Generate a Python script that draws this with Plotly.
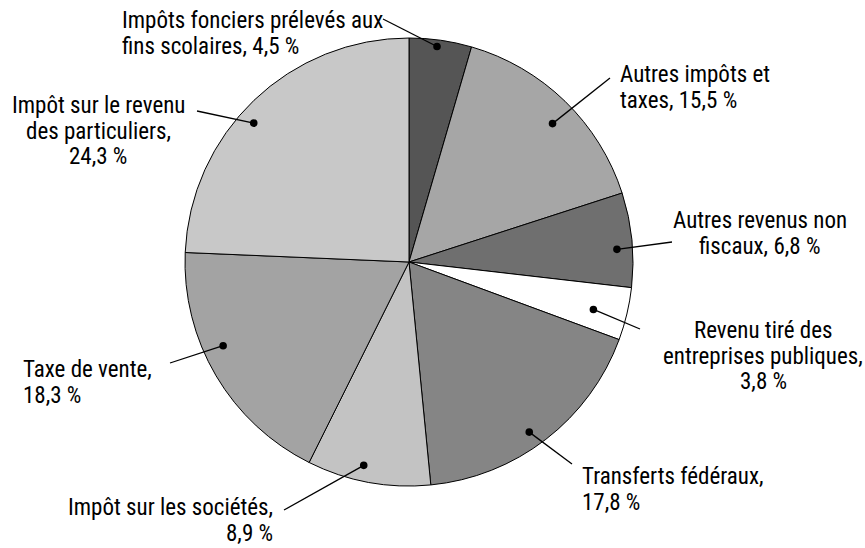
import math
import plotly.graph_objects as go

# Revenue shares, clockwise from 12 o'clock
labels = [
    "Impôts fonciers prélevés aux fins scolaires",
    "Autres impôts et taxes",
    "Autres revenus non fiscaux",
    "Revenu tiré des entreprises publiques",
    "Transferts fédéraux",
    "Impôt sur les sociétés",
    "Taxe de vente",
    "Impôt sur le revenu des particuliers",
]
values = [4.5, 15.5, 6.8, 3.8, 17.8, 8.9, 18.3, 24.3]
label_lines = [
    ["Impôts fonciers prélevés aux", "fins scolaires, {} %"],
    ["Autres impôts et", "taxes, {} %"],
    ["Autres revenus non", "fiscaux, {} %"],
    ["Revenu tiré des", "entreprises publiques,", "{} %"],
    ["Transferts fédéraux,", "{} %"],
    ["Impôt sur les sociétés,", "{} %"],
    ["Taxe de vente,", "{} %"],
    ["Impôt sur le revenu", "des particuliers,", "{} %"],
]
colors = ["#555555", "#a6a6a6", "#6f6f6f", "#ffffff",
          "#858585", "#c3c3c3", "#a3a3a3", "#c8c8c8"]

W, H = 865, 548
CX, CY, R = 409, 262, 224
FS = 23          # label font size
LEAD = 25.5      # baseline-to-baseline spacing

# label placement: x anchor, first baseline, alignment, leader end (px),
# dot radius fraction, dot angle nudge (deg)
label_pos = [
    (121, 29, "left", (383, 19), 0.97, -0.7),
    (619, 83, "left", (610, 78), 0.89, 1.9),
    (760, 229, "center", (672, 242), 0.93, 2.2),
    (763, 339, "center", (640, 329), 0.85, 1.0),
    (581, 485, "left", (572, 464), 0.93, 2.4),
    (274, 516, "right", (284, 510), 0.93, 2.1),
    (22, 378, "left", (170, 363), 0.91, 6.3),
    (98, 114, "center", (197, 111), 0.93, -4.4),
]

FONT = "Liberation Sans Narrow, Arial Narrow, Roboto Condensed, Liberation Sans, sans-serif"

fig = go.Figure()
fig.add_trace(go.Pie(
    labels=labels,
    values=values,
    sort=False,
    direction="clockwise",
    rotation=0,
    textinfo="none",
    hoverinfo="label+percent",
    marker=dict(colors=colors, line=dict(color="#000000", width=1)),
    domain=dict(x=[(CX - R) / W, (CX + R) / W],
                y=[1 - (CY + R) / H, 1 - (CY - R) / H]),
    showlegend=False,
))

total = sum(values)
shapes = []
annotations = []
cum = 0.0
for v, lines, pos in zip(values, label_lines, label_pos):
    tx, base, align, (lx, ly), rf, nudge = pos
    mid = (cum + v / 2) / total * 360 + nudge
    cum += v
    a = math.radians(mid)
    dx = CX + rf * R * math.sin(a)
    dy = CY - rf * R * math.cos(a)
    # leader line
    shapes.append(dict(type="line", xref="paper", yref="paper",
                       x0=lx / W, y0=1 - ly / H, x1=dx / W, y1=1 - dy / H,
                       line=dict(color="#000000", width=1.3)))
    # dot at the slice end of the leader
    rd = 3.8
    shapes.append(dict(type="circle", xref="paper", yref="paper",
                       x0=(dx - rd) / W, x1=(dx + rd) / W,
                       y0=1 - (dy + rd) / H, y1=1 - (dy - rd) / H,
                       fillcolor="#000000", line=dict(color="#000000", width=0)))
    val = str(v).replace(".", ",")
    for i, ln in enumerate(lines):
        ymid = base + i * LEAD - 0.35 * FS
        annotations.append(dict(text=ln.format(val), xref="paper", yref="paper",
                                x=tx / W, y=1 - ymid / H,
                                xanchor=align, yanchor="middle",
                                showarrow=False, borderpad=0,
                                font=dict(family=FONT, size=FS, color="#000000")))

fig.update_layout(
    width=W, height=H,
    margin=dict(l=0, r=0, t=0, b=0),
    paper_bgcolor="#ffffff",
    plot_bgcolor="#ffffff",
    shapes=shapes,
    annotations=annotations,
)

fig.write_html("out.html")
